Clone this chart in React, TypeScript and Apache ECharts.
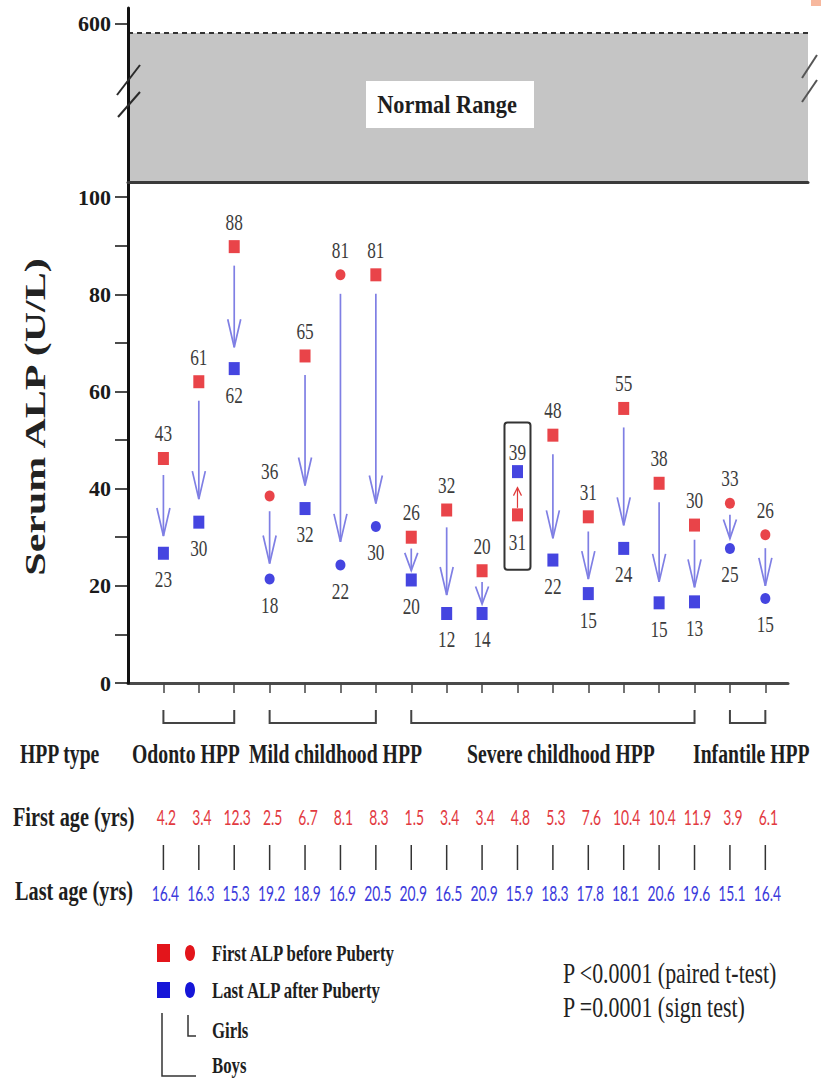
import React, { useEffect, useRef } from "react";
import * as echarts from "echarts";

// ---------- data ----------
const patients = [1, 2, 3, 4, 5, 6, 7, 8, 9, 10, 11, 12, 13, 14, 15, 16, 17, 18];
// ALP values printed next to the markers (U/L)
const firstALP = [43, 61, 88, 36, 65, 81, 81, 26, 32, 20, 31, 48, 31, 55, 38, 30, 33, 26];
const lastALP = [23, 30, 62, 18, 32, 22, 30, 20, 12, 14, 39, 22, 15, 24, 15, 13, 25, 15];
// marker heights as drawn in the figure
const firstMarkerY = [46.2, 62.0, 89.8, 38.5, 67.3, 84.0, 84.0, 30.0, 35.6, 23.1, 34.6, 51.0, 34.2, 56.5, 41.1, 32.5, 37.0, 30.5];
const lastMarkerY = [26.7, 33.1, 64.7, 21.4, 35.9, 24.3, 32.2, 21.2, 14.3, 14.3, 43.5, 25.3, 18.4, 27.7, 16.5, 16.7, 27.7, 17.4];
const firstShape = ["s", "s", "s", "c", "s", "c", "s", "s", "s", "s", "s", "s", "s", "s", "s", "s", "c", "c"];
const lastShape = ["s", "s", "s", "c", "s", "c", "c", "s", "s", "s", "s", "s", "s", "s", "s", "s", "c", "c"];
const firstAge = [4.2, 3.4, 12.3, 2.5, 6.7, 8.1, 8.3, 1.5, 3.4, 3.4, 4.8, 5.3, 7.6, 10.4, 10.4, 11.9, 3.9, 6.1];
const lastAge = [16.4, 16.3, 15.3, 19.2, 18.9, 16.9, 20.5, 20.9, 16.5, 20.9, 15.9, 18.3, 17.8, 18.1, 20.6, 19.6, 15.1, 16.4];
const hppGroups = ["Odonto HPP", "Mild childhood HPP", "Severe childhood HPP", "Infantile HPP"];
const groupFirst = [1, 4, 8, 17];
const groupLast = [3, 7, 16, 18];
const yTickValues = [0, 10, 20, 30, 40, 50, 60, 70, 80, 90, 100];
const yLabelValues = [0, 20, 40, 60, 80, 100];
const topTickValues = [600];
const normalRange = [100, 571];

// ---------- style ----------
const SERIF = '"Liberation Serif", "Times New Roman", serif';
const SANS = 'Lato, "Liberation Sans", sans-serif';
const RED = "#e3151b";
const BLUE = "#1616d8";
const ARROW = "#7f7fe4";
const groupLabelLeft = [132, 249, 467, 693];

function txt(text: string, x: number, y: number, size: number, o: any = {}) {
  const align = o.align ?? "left";
  return {
    type: "text",
    x,
    y,
    scaleX: o.sx ?? 0.73,
    scaleY: o.sy ?? 1,
    rotation: o.rot ?? 0,
    silent: true,
    z: 50,
    style: {
      text,
      font: `${o.weight ?? "bold"} ${size}px ${o.family ?? SERIF}`,
      fill: o.fill ?? "#1e1e1e",
      textAlign: align,
      align,
      textVerticalAlign: "middle",
      verticalAlign: "middle",
    },
  };
}

function lbl(text: string, x: number, y: number, size: number, fill: string, family: string, sx: number) {
  return {
    type: "text",
    x,
    y,
    scaleX: sx,
    style: {
      text,
      font: `normal ${size}px ${family}`,
      fill,
      textAlign: "center",
      align: "center",
      textVerticalAlign: "middle",
      verticalAlign: "middle",
    },
  };
}

function buildOption() {
  const pts = (vals: number[], shapes: string[], want: string) =>
    patients.map((p, i) => (shapes[i] === want ? [p, vals[i]] : null)).filter((d) => d !== null);

  const scatterBase = {
    type: "scatter",
    xAxisIndex: 0,
    yAxisIndex: 0,
    silent: true,
    z: 5,
  };

  const pairData = patients.map((p, i) => [p, firstMarkerY[i], lastMarkerY[i]]);

  const graphicEls: any[] = [
    // corner artefact
    { type: "rect", shape: { x: 811, y: 0, width: 10, height: 6 }, style: { fill: "#f7b89e" }, silent: true },
    // Normal range box
    { type: "rect", shape: { x: 366, y: 81, width: 168, height: 47 }, style: { fill: "#ffffff" }, z: 40, silent: true },
    txt("Normal Range", 447, 104, 26, { align: "center", sx: 0.86 }),
    // axis breaks
    { type: "line", shape: { x1: 117, y1: 95, x2: 140, y2: 65 }, style: { stroke: "#2a2a2a", lineWidth: 2 }, z: 45, silent: true },
    { type: "line", shape: { x1: 118, y1: 117, x2: 140, y2: 92 }, style: { stroke: "#2a2a2a", lineWidth: 2 }, z: 45, silent: true },
    { type: "line", shape: { x1: 802, y1: 78, x2: 817, y2: 55 }, style: { stroke: "#555", lineWidth: 2 }, z: 45, silent: true },
    { type: "line", shape: { x1: 802, y1: 102, x2: 817, y2: 80 }, style: { stroke: "#555", lineWidth: 2 }, z: 45, silent: true },
    // y-axis title
    txt("Serum ALP (U/L)", 35, 417, 42, { align: "center", sx: 1, sy: 0.68, rot: Math.PI / 2, fill: "#222" }),
    // row headers
    txt("HPP type", 20, 754, 27),
    txt("First age (yrs)", 13, 817, 27, { sx: 0.75 }),
    txt("Last age (yrs)", 15, 891, 27, { sx: 0.75 }),
    // legend
    { type: "rect", shape: { x: 157, y: 944, width: 13, height: 18 }, style: { fill: RED }, silent: true },
    { type: "ellipse", shape: { cx: 190, cy: 953, rx: 5, ry: 8 }, style: { fill: RED }, silent: true },
    txt("First ALP before Puberty", 212, 953, 23),
    { type: "rect", shape: { x: 157, y: 982, width: 13, height: 16 }, style: { fill: BLUE }, silent: true },
    { type: "ellipse", shape: { cx: 190, cy: 990, rx: 5, ry: 8 }, style: { fill: BLUE }, silent: true },
    txt("Last ALP after Puberty", 212, 990, 23),
    { type: "polyline", shape: { points: [[188, 1015], [188, 1036], [196, 1036]] }, style: { stroke: "#333", lineWidth: 1.5, fill: "none" }, silent: true },
    txt("Girls", 212, 1030, 23),
    { type: "polyline", shape: { points: [[162, 1013], [162, 1076], [196, 1076]] }, style: { stroke: "#333", lineWidth: 1.5, fill: "none" }, silent: true },
    txt("Boys", 212, 1065, 23),
    // statistics
    txt("P <0.0001 (paired t-test)", 563, 973, 30, { weight: "normal", sx: 0.73, fill: "#222" }),
    txt("P =0.0001 (sign test)", 563, 1007, 30, { weight: "normal", sx: 0.73, fill: "#222" }),
  ];
  hppGroups.forEach((g, k) => graphicEls.push(txt(g, groupLabelLeft[k], 754, 27)));

  return {
    animation: false,
    backgroundColor: "#ffffff",
    graphic: { elements: graphicEls },
    grid: [
      { left: 128, top: 182, width: 660, height: 501 },
      { left: 128, top: 8, right: 13, height: 174 },
    ],
    xAxis: [
      {
        gridIndex: 0,
        type: "value",
        min: 0,
        max: 18.64,
        axisLine: { show: true, lineStyle: { color: "#4a4a4a", width: 3 } },
        axisTick: { show: true, customValues: patients, length: 10, lineStyle: { color: "#444", width: 1.5 } },
        axisLabel: { show: false },
        splitLine: { show: false },
      },
      {
        gridIndex: 1,
        type: "value",
        min: 0,
        max: 1,
        z: 6,
        axisLine: { show: true, lineStyle: { color: "#3a3a3a", width: 3 } },
        axisTick: { show: false },
        axisLabel: { show: false },
        splitLine: { show: false },
      },
    ],
    yAxis: [
      {
        gridIndex: 0,
        type: "value",
        min: 0,
        max: 103.1,
        z: 6,
        axisLine: { show: true, lineStyle: { color: "#111", width: 3 } },
        axisTick: { show: true, customValues: yTickValues, length: 13, lineStyle: { color: "#111", width: 1.5 } },
        axisLabel: {
          show: true,
          customValues: yLabelValues,
          margin: 17,
          fontFamily: SERIF,
          fontWeight: "bold",
          fontSize: 22,
          color: "#1a1a1a",
        },
        splitLine: { show: false },
      },
      {
        gridIndex: 1,
        type: "value",
        min: 100,
        max: 650,
        z: 6,
        axisLine: { show: true, lineStyle: { color: "#111", width: 3 } },
        axisTick: { show: true, customValues: topTickValues, length: 13, lineStyle: { color: "#111", width: 1.5 } },
        axisLabel: {
          show: true,
          customValues: topTickValues,
          margin: 17,
          fontFamily: SERIF,
          fontWeight: "bold",
          fontSize: 22,
          color: "#1a1a1a",
        },
        splitLine: { show: false },
      },
    ],
    series: [
      {
        type: "line",
        xAxisIndex: 1,
        yAxisIndex: 1,
        data: [[0, 100]],
        showSymbol: false,
        symbol: "none",
        lineStyle: { width: 0 },
        silent: true,
        markArea: {
          silent: true,
          itemStyle: { color: "#c5c5c5" },
          label: { show: false },
          data: [[{ xAxis: 0, yAxis: normalRange[0] }, { xAxis: 1, yAxis: normalRange[1] }]],
        },
        markLine: {
          silent: true,
          symbol: ["none", "none"],
          label: { show: false },
          lineStyle: { color: "#333", width: 2, type: [5, 4] },
          data: [{ yAxis: normalRange[1] }],
        },
      },
      {
        type: "custom",
        xAxisIndex: 0,
        yAxisIndex: 0,
        clip: false,
        silent: true,
        z: 3,
        data: pairData,
        renderItem: (params: any, api: any) => {
          const [x, yr] = api.coord([api.value(0), api.value(1)]);
          const yb = api.coord([api.value(0), api.value(2)])[1];
          if (yb > yr) {
            const d = yb - yr;
            const start = yr + 7 + Math.min(12, 0.1 * d);
            const tip = yb - Math.min(20, 0.15 * d) - 3;
            const L = Math.min(28, 0.8 * (tip - start));
            const hw = 6.5;
            return {
              type: "group",
              children: [
                { type: "line", shape: { x1: x, y1: start, x2: x, y2: tip }, style: { stroke: ARROW, lineWidth: 1.7 } },
                {
                  type: "polyline",
                  shape: { points: [[x - hw, tip - L], [x, tip], [x + hw, tip - L]] },
                  style: { stroke: ARROW, lineWidth: 1.7, fill: "none" },
                },
              ],
            };
          }
          const start = yr - 7;
          const tip = yb + 16;
          return {
            type: "group",
            children: [
              { type: "line", shape: { x1: x, y1: start, x2: x, y2: tip }, style: { stroke: "#e03a3a", lineWidth: 1.2 } },
              {
                type: "polyline",
                shape: { points: [[x - 4, tip + 8], [x, tip], [x + 4, tip + 8]] },
                style: { stroke: "#e03a3a", lineWidth: 1.2, fill: "none" },
              },
            ],
          };
        },
      },
      { ...scatterBase, name: "First ALP (square)", symbol: "rect", symbolSize: [11, 13], itemStyle: { color: RED }, data: pts(firstMarkerY, firstShape, "s") },
      { ...scatterBase, name: "First ALP (circle)", symbol: "circle", symbolSize: [10, 11], itemStyle: { color: RED }, data: pts(firstMarkerY, firstShape, "c") },
      { ...scatterBase, name: "Last ALP (square)", symbol: "rect", symbolSize: [11, 13], itemStyle: { color: BLUE }, data: pts(lastMarkerY, lastShape, "s") },
      { ...scatterBase, name: "Last ALP (circle)", symbol: "circle", symbolSize: [10, 11], itemStyle: { color: BLUE }, data: pts(lastMarkerY, lastShape, "c") },
      {
        type: "custom",
        xAxisIndex: 0,
        yAxisIndex: 0,
        clip: false,
        silent: true,
        z: 6,
        data: pairData,
        renderItem: (params: any, api: any) => {
          const i = params.dataIndex;
          const [x, yr] = api.coord([api.value(0), api.value(1)]);
          const yb = api.coord([api.value(0), api.value(2)])[1];
          const rising = yb < yr;
          const children: any[] = [
            lbl(String(firstALP[i]), x, rising ? yr + 27 : yr - 25, 23, "#3c3c3c", SERIF, 0.75),
            lbl(String(lastALP[i]), x, rising ? yb - 20 : yb + 26, 23, "#3c3c3c", SERIF, 0.75),
          ];
          if (rising) {
            children.push({
              type: "rect",
              shape: { x: x - 13, y: yb - 49, width: 26, height: yr + 55 - (yb - 49), r: 3 },
              style: { fill: "none", stroke: "#333", lineWidth: 2 },
            });
          }
          return { type: "group", children };
        },
      },
      {
        type: "custom",
        xAxisIndex: 0,
        yAxisIndex: 0,
        clip: false,
        silent: true,
        z: 6,
        data: patients.map((p) => [p, 0]),
        renderItem: (params: any, api: any) => {
          const i = params.dataIndex;
          const x = api.coord([api.value(0), 0])[0];
          return {
            type: "group",
            children: [
              lbl(firstAge[i].toFixed(1), x + 3, 817, 22, "#e23a3f", SANS, 0.63),
              { type: "line", shape: { x1: x, y1: 845, x2: x, y2: 870 }, style: { stroke: "#333", lineWidth: 1.5 } },
              lbl(lastAge[i].toFixed(1), x + 2, 893, 22, "#3b3bdc", SANS, 0.63),
            ],
          };
        },
      },
      {
        type: "custom",
        xAxisIndex: 0,
        yAxisIndex: 0,
        clip: false,
        silent: true,
        z: 6,
        data: hppGroups.map((g, k) => [groupFirst[k], 0, groupLast[k]]),
        renderItem: (params: any, api: any) => {
          const x1 = api.coord([api.value(0), 0])[0];
          const x2 = api.coord([api.value(2), 0])[0];
          return {
            type: "polyline",
            shape: { points: [[x1, 710], [x1, 723], [x2, 723], [x2, 710]] },
            style: { stroke: "#444", lineWidth: 2, fill: "none" },
          };
        },
      },
    ],
  };
}

export default function App() {
  const ref = useRef<HTMLDivElement>(null);
  useEffect(() => {
    if (!ref.current) return;
    const chart = echarts.init(ref.current, undefined, { renderer: "svg" });
    chart.setOption(buildOption() as any);
    return () => chart.dispose();
  }, []);
  return (
    <div
      ref={ref}
      style={{ position: "absolute", left: 0, top: 0, width: 821, height: 1078, background: "#fff" }}
    />
  );
}
